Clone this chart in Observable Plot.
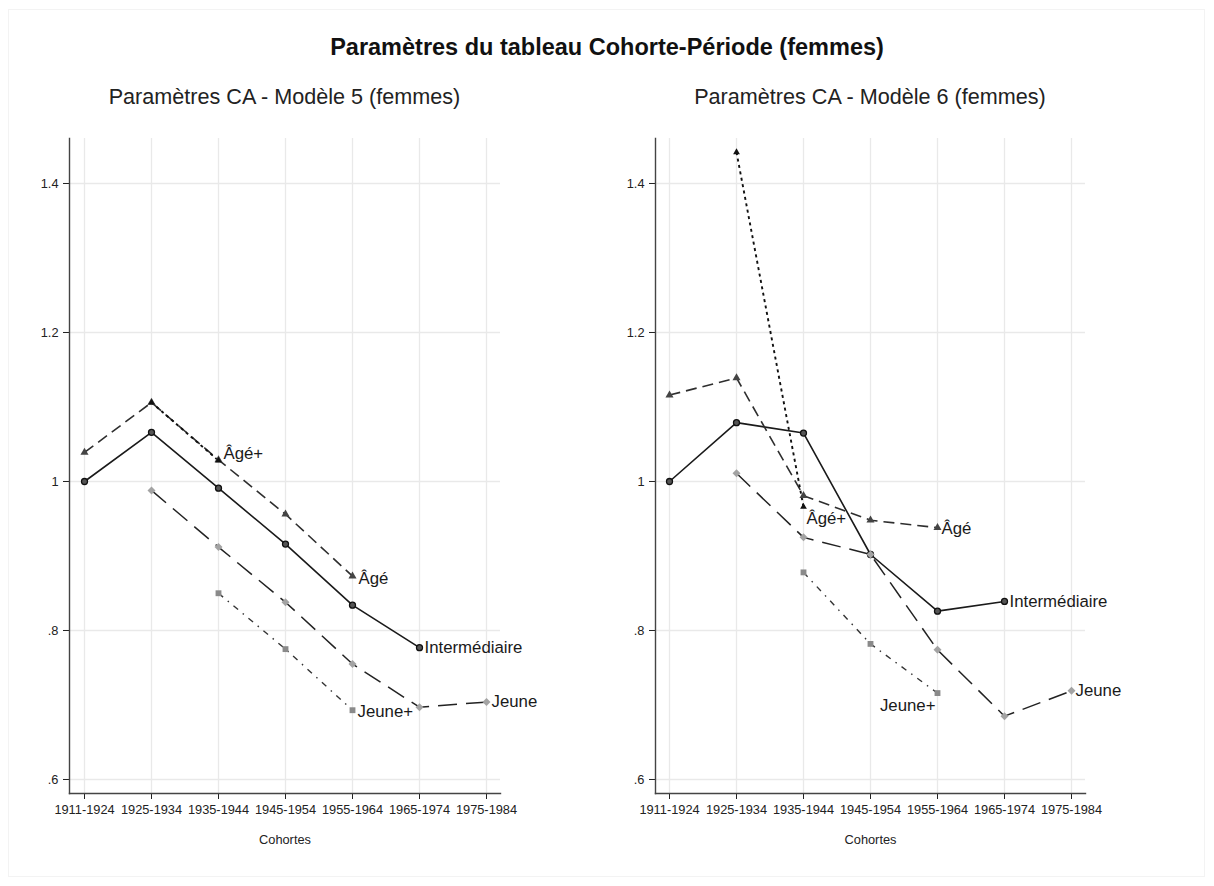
<!DOCTYPE html>
<html>
<head>
<meta charset="utf-8">
<script src="https://cdn.jsdelivr.net/npm/d3@7"></script>
<script src="https://cdn.jsdelivr.net/npm/@observablehq/plot@0.6"></script>
<style>
  html, body { margin: 0; padding: 0; background: #fff; }
  body { width: 1214px; height: 886px; position: relative; overflow: hidden; font-family: "Liberation Sans", Arial, Helvetica, sans-serif; }
  #border { position: absolute; left: 8px; top: 9px; width: 1197px; height: 868px; border: 1px solid #f3f3f3; box-sizing: border-box; }
  #title { position: absolute; left: 0; width: 1214px; top: 32px; text-align: center; font-weight: bold; font-size: 23.5px; color: #111; line-height: 30px; }
  .sub { position: absolute; top: 84px; text-align: center; font-size: 21.6px; color: #222; line-height: 26px; }
  #sub5 { left: 69px; width: 431px; }
  #sub6 { left: 655px; width: 430px; }
  #p5 { position: absolute; left: 0; top: 120px; }
  #p6 { position: absolute; left: 607px; top: 120px; }
</style>
</head>
<body>
<div id="border"></div>
<div id="title">Paramètres du tableau Cohorte-Période (femmes)</div>
<div class="sub" id="sub5">Paramètres CA - Modèle 5 (femmes)</div>
<div class="sub" id="sub6">Paramètres CA - Modèle 6 (femmes)</div>
<div id="p5"></div>
<div id="p6"></div>
<script>
// ---- Data ----
const cohortes = ["1911-1924", "1925-1934", "1935-1944", "1945-1954", "1955-1964", "1965-1974", "1975-1984"];
const yTicks = [0.6, 0.8, 1, 1.2, 1.4];
const noms = ["Intermédiaire", "Âgé", "Âgé+", "Jeune", "Jeune+"];

// Modèle 5
const m5_intermediaire = [1.000, 1.066, 0.991, 0.916, 0.834, 0.777, null];
const m5_age           = [1.039, 1.106, 1.029, 0.956, 0.873, null, null];
const m5_agePlus       = [null, 1.106, 1.028, null, null, null, null];
const m5_jeune         = [null, 0.988, 0.912, 0.838, 0.755, 0.697, 0.704];
const m5_jeunePlus     = [null, null, 0.850, 0.775, 0.693, null, null];

// Modèle 6
const m6_intermediaire = [1.000, 1.079, 1.065, 0.902, 0.826, 0.839, null];
const m6_age           = [1.116, 1.139, 0.981, 0.948, 0.938, null, null];
const m6_agePlus       = [null, 1.442, 0.966, null, null, null, null];
const m6_jeune         = [null, 1.011, 0.925, 0.902, 0.774, 0.685, 0.719];
const m6_jeunePlus     = [null, null, 0.878, 0.782, 0.716, null, null];

// ---- Styles ----
const styles = {
  "Intermédiaire": {stroke: "#1a1a1a", dash: null, width: 1.6, symbol: "circle", r: 3, fill: "#555", mstroke: "#111"},
  "Âgé":           {stroke: "#2e2e2e", dash: "11,6", width: 1.6, symbol: "triangle", r: 3, fill: "#444", mstroke: "none"},
  "Âgé+":          {stroke: "#111", dash: "3,3.5", width: 1.9, symbol: "triangle", r: 2.5, fill: "#111", mstroke: "none"},
  "Jeune":         {stroke: "#222", dash: "19,9", width: 1.5, symbol: "diamond2", r: 3.6, fill: "#a3a3a3", mstroke: "none"},
  "Jeune+":        {stroke: "#333", dash: "6,6,1.5,6", width: 1.4, symbol: "square", r: 3.3, fill: "#8a8a8a", mstroke: "none"}
};
const labels5 = {
  "Intermédiaire": {dx: 5, dy: 0, anchor: "start"},
  "Âgé":           {dx: 6, dy: 2, anchor: "start"},
  "Âgé+":          {dx: 5, dy: -7, anchor: "start"},
  "Jeune":         {dx: 5, dy: 0, anchor: "start"},
  "Jeune+":        {dx: 5, dy: 1, anchor: "start"}
};
const labels6 = {
  "Intermédiaire": {dx: 5, dy: 0, anchor: "start"},
  "Âgé":           {dx: 4, dy: 1, anchor: "start"},
  "Âgé+":          {dx: 3, dy: 12, anchor: "start"},
  "Jeune":         {dx: 4, dy: 0, anchor: "start"},
  "Jeune+":        {dx: -2, dy: 13, anchor: "end"}
};

const fmt = d => d === 1 ? "1" : (d < 1 ? String(d).replace(/^0/, "") : String(d));

function panel(values, labelPos, marginLeft, marginRight) {
  const rows = [];
  noms.forEach((nom, k) => {
    values[k].forEach((v, i) => { if (v != null) rows.push({serie: nom, cohorte: cohortes[i], valeur: v}); });
  });
  const marks = [
    Plot.ruleY(yTicks, {y: d => d, stroke: "#e9e9e9", strokeWidth: 1.3}),
    Plot.ruleX(cohortes, {x: d => d, stroke: "#e9e9e9", strokeWidth: 1.3}),
    Plot.frame({anchor: "left", stroke: "#444", strokeWidth: 1.4}),
    Plot.frame({anchor: "bottom", stroke: "#444", strokeWidth: 1.4})
  ];
  noms.forEach(nom => {
    const s = styles[nom];
    const data = rows.filter(d => d.serie === nom);
    marks.push(Plot.line(data, {x: "cohorte", y: "valeur", stroke: s.stroke, strokeWidth: s.width, strokeDasharray: s.dash, strokeLinecap: "butt"}));
  });
  noms.forEach(nom => {
    const s = styles[nom];
    const data = rows.filter(d => d.serie === nom);
    marks.push(Plot.dot(data, {x: "cohorte", y: "valeur", symbol: () => s.symbol, r: s.r, fill: s.fill, stroke: s.mstroke, strokeWidth: 1.3}));
    const last = data[data.length - 1];
    const lp = labelPos[nom];
    marks.push(Plot.text([last], {x: "cohorte", y: "valeur", text: d => d.serie, dx: lp.dx, dy: lp.dy, textAnchor: lp.anchor, fontSize: 16.8, fill: "#1a1a1a"}));
  });
  return Plot.plot({
    width: 607,
    height: 733,
    marginLeft, marginRight,
    marginTop: 18,
    marginBottom: 60,
    style: {fontFamily: "'Liberation Sans', Arial, Helvetica, sans-serif", fontSize: "12.8px", color: "#222", background: "transparent"},
    x: {type: "point", domain: cohortes, padding: 0.2084, label: "Cohortes", labelAnchor: "center", labelOffset: 50, tickSize: 6, tickPadding: 5},
    y: {domain: [0.5812, 1.4604], ticks: yTicks, tickFormat: fmt, tickSize: 6, tickPadding: 5, label: null},
    symbol: {type: "identity"},
    marks
  });
}

document.getElementById("p5").append(panel([m5_intermediaire, m5_age, m5_agePlus, m5_jeune, m5_jeunePlus], labels5, 69, 107));
document.getElementById("p6").append(panel([m6_intermediaire, m6_age, m6_agePlus, m6_jeune, m6_jeunePlus], labels6, 48, 129));
</script>
</body>
</html>
